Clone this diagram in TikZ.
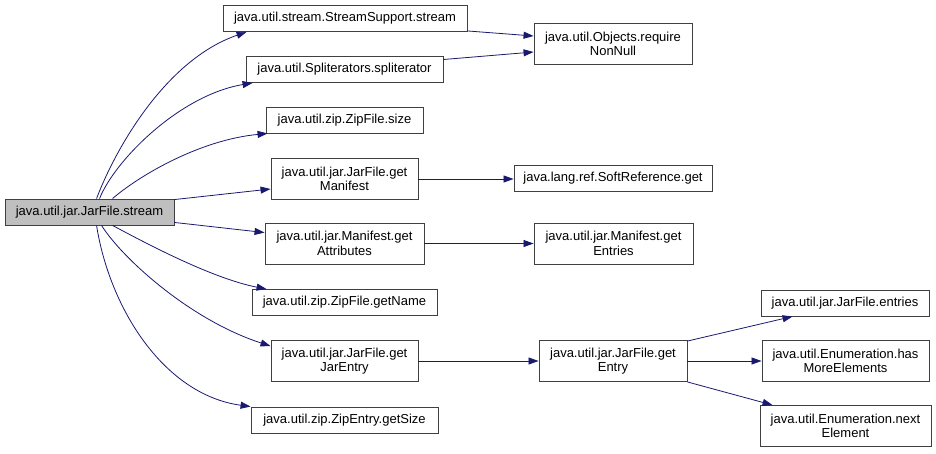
\documentclass[tikz,border=0pt]{standalone}
\usepackage{fontspec}
\setmainfont{Liberation Sans}
\usetikzlibrary{arrows.meta,calc}
\definecolor{edgeblue}{HTML}{191970}
\definecolor{rootgray}{HTML}{BFBFBF}
\definecolor{boxline}{HTML}{404040}
\begin{document}
\begin{tikzpicture}[x=1pt,y=-1pt,
  box/.style={draw=boxline, line width=0.9pt, inner sep=0pt, align=center,
    fill=white, font=\fontsize{13}{14.5}\selectfont},
  one/.style={minimum height=26pt},
  two/.style={minimum height=41pt},
  edge/.style={draw=edgeblue, line width=0.8pt,
    -{Triangle[length=10pt,width=7pt,fill=edgeblue]}}]
\useasboundingbox (0,0) rectangle (936,453);
% nodes
\node[box, one, minimum width=169pt, fill=rootgray] (root) at (89.5,212) {java.util.jar.JarFile.stream};
\node[box, one, minimum width=244pt] (ss) at (345,18.5) {java.util.stream.StreamSupport.stream};
\node[box, one, minimum width=197pt] (spl) at (344.5,69.5) {java.util.Spliterators.spliterator};
\node[box, two, minimum width=158pt] (nn) at (613,44) {java.util.Objects.require\\NonNull};
\node[box, one, minimum width=157pt] (size) at (344.5,120) {java.util.zip.ZipFile.size};
\node[box, two, minimum width=147pt] (man) at (344.5,179) {java.util.jar.JarFile.get\\Manifest};
\node[box, one, minimum width=198pt] (soft) at (613,178.5) {java.lang.ref.SoftReference.get};
\node[box, two, minimum width=159pt] (attr) at (344.5,243.5) {java.util.jar.Manifest.get\\Attributes};
\node[box, two, minimum width=159pt] (ent) at (613.5,243.5) {java.util.jar.Manifest.get\\Entries};
\node[box, one, minimum width=185pt] (name) at (344.5,302.5) {java.util.zip.ZipFile.getName};
\node[box, two, minimum width=147pt] (jar) at (344.5,361) {java.util.jar.JarFile.get\\JarEntry};
\node[box, two, minimum width=148pt] (gent) at (613,361) {java.util.jar.JarFile.get\\Entry};
\node[box, one, minimum width=168pt] (entries) at (845,303) {java.util.jar.JarFile.entries};
\node[box, two, minimum width=167pt] (hasm) at (845.5,361) {java.util.Enumeration.has\\MoreElements};
\node[box, two, minimum width=171pt] (next) at (845.5,426) {java.util.Enumeration.next\\Element};
\node[box, one, minimum width=187pt] (gsize) at (344.5,420) {java.util.zip.ZipEntry.getSize};
% edges from root
\draw[edge] ($(root.north west)+(92,0)$) .. controls (115,150) and (165,60) .. ($(ss.south west)+(24,0)$);
\draw[edge] ($(root.north west)+(95,0)$) .. controls (115,160) and (180,95) .. ($(spl.south west)+(7,0)$);
\draw[edge] ($(root.north west)+(108,0)$) .. controls (140,175) and (200,140) .. ($(size.south west)+(2,0)$);
\draw[edge] ($(root.north east)+(0,1)$) -- ($(man.west)+(0,10)$);
\draw[edge] ($(root.south east)+(0,-3)$) -- ($(attr.north west)+(0,10)$);
\draw[edge] ($(root.south west)+(108,0)$) .. controls (140,240) and (210,278) .. ($(name.north west)+(15,0)$);
\draw[edge] ($(root.south west)+(97,0)$) .. controls (122,258) and (190,320) .. ($(jar.north west)+(0,6)$);
\draw[edge] ($(root.south west)+(92,0)$) .. controls (110,310) and (165,395) .. (gsize.north west);
% second level
\draw[edge] ($(ss.south east)+(0,-1)$) -- ($(nn.west)+(0,-8)$);
\draw[edge] ($(spl.east)+(0,-10)$) -- ($(nn.west)+(0,8)$);
\draw[edge] (man.east) -- (man.east -| soft.west);
\draw[edge] (attr.east) -- (attr.east -| ent.west);
\draw[edge] (jar.east) -- (gent.west);
% third level
\draw[edge] ($(gent.north east)+(0,1)$) -- ($(entries.south west)+(32,0)$);
\draw[edge] (gent.east) -- (hasm.west);
\draw[edge] (gent.south east) -- ($(next.north west)+(13,0)$);
\end{tikzpicture}
\end{document}
